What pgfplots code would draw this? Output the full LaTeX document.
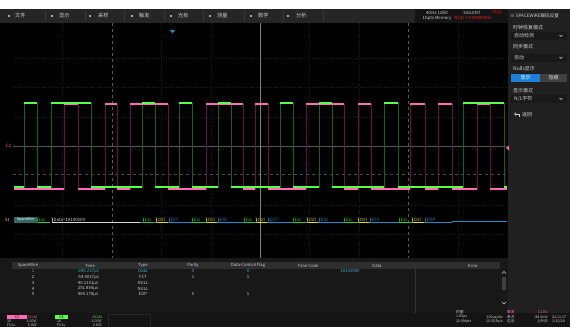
\documentclass[border=0pt]{standalone}
\usepackage{fontspec}
\setmainfont{Noto Sans CJK SC}
\usepackage{pgfplots}
\pgfplotsset{compat=1.18}
\definecolor{grn}{HTML}{55FF4A}
\definecolor{pnk}{HTML}{FF6AB4}
\definecolor{dgrn}{HTML}{176017}
\definecolor{dpnk}{HTML}{621540}
\definecolor{dec}{HTML}{1E8FD0}
\definecolor{yel}{HTML}{E6E200}
\definecolor{escg}{HTML}{2ED12E}
\definecolor{topbar}{HTML}{262626}
\definecolor{infobox}{HTML}{141414}
\definecolor{panel}{HTML}{202020}
\definecolor{tbl}{HTML}{181818}
\definecolor{hdr}{HTML}{2E2E2E}
\definecolor{txt}{HTML}{CFCFCF}
\definecolor{tealc}{HTML}{3FB0C0}
\definecolor{blu}{HTML}{1E7FD8}
\newcommand\fs[1]{\fontsize{#1}{#1}\selectfont}
\begin{document}
\begin{tikzpicture}
\path[use as bounding box] (0bp,0bp) rectangle (570bp,-327bp);
\begin{scope}[x=1bp,y=-1bp]
\fill[white] (0,0) rectangle (570,9);
\fill[black] (0,9) rectangle (570,327);
\fill[topbar] (0,9) rectangle (570,23);
\fill[infobox] (415,9) rectangle (508,23);
\fill[panel] (508,9) rectangle (570,313);
\fill[tbl] (0,258) rectangle (508,313);
\fill[hdr] (12,262) rectangle (500,269);
\fill[black!92] (0,313) rectangle (570,327);
\end{scope}
\begin{axis}[at={(13bp,-258bp)}, anchor=south west, scale only axis,
  width=494bp, height=235bp, xmin=13, xmax=507, ymin=23, ymax=258, y dir=reverse,
  axis line style={draw=none}, xtick={62,161,211,309,359,458}, ytick={58,87,117,205,234},
  xticklabels={}, yticklabels={}, major tick length=0pt, grid=major,
  major grid style={draw=white!11!black, dotted, line width=0.4pt}]
\draw[white!33!black, line width=0.5pt] (axis cs:13,146) -- (axis cs:507,146);
\draw[white!30!black, dashed, line width=0.5pt] (axis cs:13,174) -- (axis cs:507,174);
\draw[white!35!black, dashed, line width=0.5pt] (axis cs:112,23) -- (axis cs:112,258);
\draw[white!35!black, dashed, line width=0.5pt] (axis cs:408,23) -- (axis cs:408,258);
\draw[white!50!black, line width=0.5pt] (axis cs:260,23) -- (axis cs:260,258);
% pink channel (C2)
\addplot[const plot, dpnk, line width=0.5pt] coordinates {(14,189) (64,104) (78,189) (105,104) (117,189) (130,104) (168,189) (206,104) (243,189) (255,104) (268,189) (306,104) (344,189) (358,104) (371,189) (410,104) (425,189) (438,104) (452,189) (477,104) (490,189) (507,189)};
% green channel (C4)
\addplot[const plot, dgrn, line width=0.5pt] coordinates {(14,187) (24,103) (37,187) (51,103) (91,187) (142,103) (155,187) (179,103) (192,187) (218,103) (231,187) (280,103) (293,187) (319,103) (332,187) (384,103) (398,187) (463,103) (504,187) (507,187)};
\addplot[jump mark left, pnk, line width=1.4pt] coordinates {(14,189) (64,104) (78,189) (105,104) (117,189) (130,104) (168,189) (206,104) (243,189) (255,104) (268,189) (306,104) (344,189) (358,104) (371,189) (410,104) (425,189) (438,104) (452,189) (477,104) (490,189) (507,189)};
\addplot[jump mark left, grn, line width=1.4pt] coordinates {(14,187) (24,103) (37,187) (51,103) (91,187) (142,103) (155,187) (179,103) (192,187) (218,103) (231,187) (280,103) (293,187) (319,103) (332,187) (384,103) (398,187) (463,103) (504,187) (507,187)};
\end{axis}
\begin{scope}[x=1bp,y=-1bp, every node/.style={inner sep=0pt, text=txt}]
% top menu
\foreach \ix/\tx/\lab in {9/15/文件, 52/59/显示, 90/98/采样, 132/139/触发, 171/178/光标, 210/217/测量, 251/258/数学, 288/296/分析} {
  \fill[white!65!black] (\ix-1.3,14.7) rectangle (\ix+1.3,17.3);
  \node[anchor=west, font=\fs{5.2}] at (\tx,16) {\lab};
}
\foreach \dx in {45,85,124,164,203,244,283,323} \draw[white!22!black, line width=0.4pt] (\dx,11) -- (\dx,21);
\node[font=\fs{4.3}] at (437,12.6) {4GHz 12Bit};
\node[font=\fs{4.3}] at (437,18.6) {1Gpts Memory};
\node[font=\fs{4.3}] at (472,12.6) {SIGLENT};
\node[font=\fs{4.3}, text=red!85!white] at (473,18.6) {f(C2) = 0.000000Hz};
\node[font=\fs{4.6}, text=red] at (497,12.6) {Stop};
\node[anchor=west, font=\fs{4.6}] at (510,16) {≡ SPACEWIRE解码设置};
% right panel
\node[anchor=west, font=\fs{5}] at (513,28) {时钟恢复模式};
\fill[black!90] (511,32) rectangle (567,39.5);
\node[anchor=west, font=\fs{5}] at (514,35.8) {自动检测};
\draw[txt, line width=0.4pt] (559.5,35) -- (561,36.5) -- (562.5,35);
\node[anchor=west, font=\fs{5}] at (513,47) {同步模式};
\fill[black!90] (511,54) rectangle (567,61.5);
\node[anchor=west, font=\fs{5}] at (514,57.8) {自动};
\draw[txt, line width=0.4pt] (559.5,57) -- (561,58.5) -- (562.5,57);
\node[anchor=west, font=\fs{5}] at (513,69) {Nulls显示};
\fill[blu] (511,74) rectangle (540,82);
\fill[white!25!black] (540,74) rectangle (567,82);
\node[font=\fs{5}, text=white] at (525.5,78) {显示};
\node[font=\fs{5}] at (553.5,78) {隐藏};
\node[anchor=west, font=\fs{5}] at (513,91) {显示模式};
\fill[black!90] (511,95) rectangle (567,102.5);
\node[anchor=west, font=\fs{5}] at (514,98.8) {N/L字符};
\draw[txt, line width=0.4pt] (559.5,98) -- (561,99.5) -- (562.5,98);
\draw[txt, line width=0.5pt] (519,116.5) -- (519,114) -- (514.5,114);
\draw[txt, line width=0.5pt] (516,112.5) -- (514.5,114) -- (516,115.5);
\node[anchor=west, font=\fs{5}] at (522,115) {返回};
% markers
\node[font=\fs{4.5}, text=pnk] at (8.5,146) {C2};
\fill[pnk] (506,148) -- (509,145.5) -- (509,150.5) -- cycle;
\fill[dec] (170,30) -- (175,30) -- (172.5,33.5) -- cycle;
% decode row
\node[font=\fs{4.2}] at (7.5,220) {S1};
\fill[white!35!teal!60!black] (14,216.5) rectangle (37,222.5);
\node[font=\fs{3.6}, text=white] at (25.5,219.5) {SpaceWire};
\draw[dec, line width=0.6pt] (140,222.5) -- (452,222.5);
\draw[dec, line width=0.6pt] (452,221.5) -- (507,221.5);
\draw[white!75!black, line width=0.6pt] (52,222.5) -- (140,222.5);
\foreach \a/\b/\c/\t in {37/50/escg/Esc, 52/140/white!85!black/Data=18100000, 143/154/escg/Esc, 156/168/yel/Ctrl, 169/182/dec/ECT, 192/205/escg/Esc, 206/217/yel/Ctrl, 218/233/dec/ESC, 244/255/escg/Esc, 256/267/yel/Ctrl, 268/280/dec/ECT, 293/306/escg/Esc, 307/318/yel/Ctrl, 319/332/dec/ESC, 344/357/escg/Esc, 358/369/yel/Ctrl, 370/380/dec/ECT, 399/411/escg/Esc, 412/424/yel/Ctrl, 425/437/dec/EOP} {
  \draw[\c, line width=0.6pt] (\a,217.5) -- (\a+1,222.5) -- (\b,222.5);
  \node[anchor=west, font=\fs{4.4}, text=\c] at (\a+1.5,219.6) {\t};
}
% table
\foreach \x/\t in {28/SpaceWire, 90/Time, 143/Type, 193/Parity, 248/Data-Control Flag, 308/Time Code, 377/Data, 473/Error}
  \node[font=\fs{4.2}] at (\x,265.6) {\t};
\draw[white!20!black, line width=0.4pt] (415,262) -- (415,313);
\foreach \x/\t in {33/1, 88/-286.217µs, 143/Data, 193/0, 248/0, 350/18100000}
  \node[font=\fs{4.3}, text=tealc] at (\x,271.4) {\t};
\foreach \r/\yy/\tm/\ty/\pa/\fl in {2/277.2/-54.9017µs/FCT/1/1, 3/283/46.1131µs/NULL//, 4/288.6/251.856µs/NULL//, 5/294.2/464.178µs/EOP/0/1} {
  \node[font=\fs{4.3}] at (33,\yy) {\r};
  \node[font=\fs{4.3}] at (88,\yy) {\tm};
  \node[font=\fs{4.3}] at (143,\yy) {\ty};
  \node[font=\fs{4.3}] at (193,\yy) {\pa};
  \node[font=\fs{4.3}] at (248,\yy) {\fl};
}
\draw[txt, line width=0.5pt] (502,273.5) -- (504,271.5) -- (506,273.5);
\fill[white!25!black] (502,277) rectangle (506,290);
\draw[txt, line width=0.5pt] (502,302) -- (504,304) -- (506,302);
% bottom status bar
\fill[pnk] (7,314.5) rectangle (27,318.8);
\node[font=\fs{3.6}, text=black] at (17,316.8) {C2};
\node[anchor=east, font=\fs{3.4}, text=pnk] at (37,316.8) {DC1M};
\node[anchor=west, font=\fs{3.6}] at (7,321.3) {1X};
\node[anchor=east, font=\fs{3.6}] at (37,321.3) {2.00V/};
\node[anchor=west, font=\fs{3.6}] at (7,325.2) {FULL};
\node[anchor=east, font=\fs{3.6}] at (37,325.2) {0.00V};
\fill[grn] (55,314.5) rectangle (68,318.8);
\node[font=\fs{3.6}, text=black] at (61.5,316.8) {C4};
\node[anchor=east, font=\fs{3.4}, text=grn] at (102,316.8) {DC1M};
\node[anchor=west, font=\fs{3.6}] at (57,321.3) {1X};
\node[anchor=east, font=\fs{3.6}] at (102,321.3) {2.00V/};
\node[anchor=west, font=\fs{3.6}] at (57,325.2) {FULL};
\node[anchor=east, font=\fs{3.6}] at (102,325.2) {0.00V};
\draw[white!15!black, line width=0.5pt] (108,314.5) rectangle (150,327);
\node[anchor=west, font=\fs{3.8}] at (456,312.3) {时基};
\node[anchor=west, font=\fs{3.6}] at (456,317) {1.85µs};
\node[anchor=east, font=\fs{3.6}] at (503,317) {100µs/div};
\node[anchor=west, font=\fs{3.6}] at (456,321.6) {20.0Mpts};
\node[anchor=east, font=\fs{3.6}] at (503,321.6) {10.0GSa/s};
\node[anchor=west, font=\fs{3.8}, text=pnk] at (507,312.3) {触发};
\node[anchor=east, font=\fs{3.6}, text=pnk] at (548,312.3) {C2 DC};
\node[anchor=west, font=\fs{3.6}] at (507,317) {单次};
\node[anchor=east, font=\fs{3.6}] at (548,317) {-88.0mV};
\node[anchor=west, font=\fs{3.6}] at (507,321.6) {边沿};
\node[anchor=east, font=\fs{3.6}] at (548,321.6) {上升沿};
\node[anchor=west, font=\fs{3.6}] at (552,317) {22:11:17};
\node[anchor=west, font=\fs{3.6}] at (552,321.6) {1/20/24};
\end{scope}
\end{tikzpicture}
\end{document}
